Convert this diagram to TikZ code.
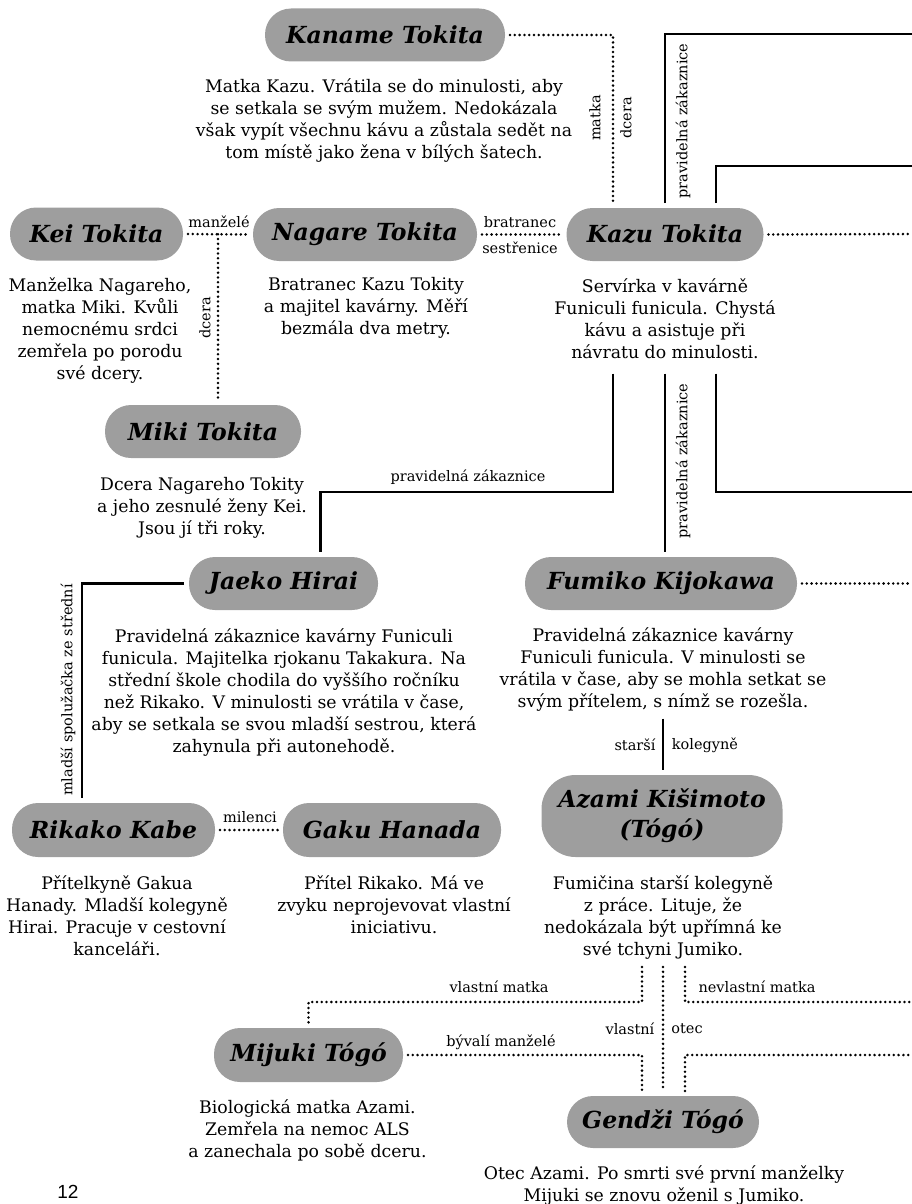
\documentclass[tikz,border=0pt]{standalone}
\usepackage{fontspec}
\setmainfont{DejaVu Serif}
\newfontfamily\pagefont{Liberation Sans}
\definecolor{pillgray}{RGB}{158,158,158}

\begin{document}
\begin{tikzpicture}[x=1pt, y=-1pt,
    person/.style={fill=pillgray, rounded corners=26pt, minimum height=53pt, inner sep=0pt, outer sep=5pt, align=center, font=\fontsize{23.5}{30}\selectfont\bfseries\itshape},
    note/.style={align=center, inner sep=0pt, font=\fontsize{17.3}{22}\selectfont},
    tag/.style={inner sep=0pt, font=\fontsize{14.5}{17}\selectfont},
    rel/.style={line width=2.8pt, line cap=round, dash pattern=on 0pt off 4.8pt},
    link/.style={line width=2.8pt}]
                    \useasboundingbox (0,0) rectangle (912,1204);
                    % people
                    \node[person, minimum width=240pt] (kaname) at (385,35) {Kaname Tokita};
                    \node[person, minimum width=173pt] (kei) at (96.5,234) {Kei Tokita};
                    \node[person, minimum width=224pt] (nagare) at (365,234.5) {Nagare Tokita};
                    \node[person, minimum width=197pt] (kazu) at (665,234.5) {Kazu Tokita};
                    \node[person, minimum width=196pt] (miki) at (203,431.5) {Miki Tokita};
                    \node[person, minimum width=189pt] (jaeko) at (283.5,583.5) {Jaeko Hirai};
                    \node[person, minimum width=272pt] (fumiko) at (661,583.5) {Fumiko Kijokawa};
                    \node[person, minimum width=241pt, minimum height=82pt, rounded corners=34pt] (azami) at (662,816) {Azami Kišimoto\\(Tógó)};
                    \node[person, minimum width=203pt, minimum height=54pt] (rikako) at (113.5,830) {Rikako Kabe};
                    \node[person, minimum width=218pt, minimum height=54pt] (gaku) at (392,830) {Gaku Hanada};
                    \node[person, minimum width=189pt, minimum height=54pt] (mijuki) at (308.5,1055) {Mijuki Tógó};
                    \node[person, minimum width=192pt, minimum height=52pt] (gendzi) at (663,1122) {Gendži Tógó};
                    % notes
                    \node[note] (kanametext) at (384,120.5) {Matka Kazu. Vrátila se do minulosti, aby\\se setkala se svým mužem. Nedokázala\\však vypít všechnu kávu a zůstala sedět na\\tom místě jako žena v bílých šatech.};
                    \node[note] (keitext) at (100,330) {Manželka Nagareho,\\matka Miki. Kvůli\\nemocnému srdci\\zemřela po porodu\\své dcery.};
                    \node[note] (nagaretext) at (366,308) {Bratranec Kazu Tokity\\a majitel kavárny. Měří\\bezmála dva metry.};
                    \node[note] (kazutext) at (665,318.5) {Servírka v kavárně\\Funiculi funicula. Chystá\\kávu a asistuje při\\návratu do minulosti.};
                    \node[note] (mikitext) at (202,508) {Dcera Nagareho Tokity\\a jeho zesnulé ženy Kei.\\Jsou jí tři roky.};
                    \node[note] (jaekotext) at (284,692.5) {Pravidelná zákaznice kavárny Funiculi\\funicula. Majitelka rjokanu Takakura. Na\\střední škole chodila do vyššího ročníku\\než Rikako. V minulosti se vrátila v čase,\\aby se setkala se svou mladší sestrou, která\\zahynula při autonehodě.};
                    \node[note] (fumikotext) at (663,669.5) {Pravidelná zákaznice kavárny\\Funiculi funicula. V minulosti se\\vrátila v čase, aby se mohla setkat se\\svým přítelem, s nímž se rozešla.};
                    \node[note] (azamitext) at (663,917) {Fumičina starší kolegyně\\z práce. Lituje, že\\nedokázala být upřímná ke\\své tchyni Jumiko.};
                    \node[note] (rikakotext) at (117,916) {Přítelkyně Gakua\\Hanady. Mladší kolegyně\\Hirai. Pracuje v cestovní\\kanceláři.};
                    \node[note] (gakutext) at (394,904.5) {Přítel Rikako. Má ve\\zvyku neprojevovat vlastní\\iniciativu.};
                    \node[note] (mijukitext) at (307.5,1130) {Biologická matka Azami.\\Zemřela na nemoc ALS\\a zanechala po sobě dceru.};
                    \node[note] (gendzitext) at (664,1185) {Otec Azami. Po smrti své první manželky\\Mijuki se znovu oženil s Jumiko.};
                    \node[font=\pagefont\fontsize{19}{20}\selectfont] (pagenum) at (68,1192) {12};
                    % relation labels
                    \node[tag, rotate=90] (tmatka) at (595,118) {matka};
                    \node[tag, rotate=90] (tdcera) at (626,118) {dcera};
                    \node[tag, rotate=90] (tregular) at (683,121) {pravidelná zákaznice};
                    \node[tag] (tspouses) at (219,222) {manželé};
                    \node[tag, rotate=90] (tdaughter) at (205,318) {dcera};
                    \node[tag] (tcousin) at (520,222) {bratranec};
                    \node[tag] (tcousinf) at (520,248) {sestřenice};
                    \node[tag] (tregular2) at (468,477) {pravidelná zákaznice};
                    \node[tag, rotate=90] (tregular3) at (683,461) {pravidelná zákaznice};
                    \node[tag, rotate=90] (tschool) at (68,690) {mladší spolužačka ze střední};
                    \node[tag] (tolder) at (635,745) {starší};
                    \node[tag] (tcolleague) at (705,745) {kolegyně};
                    \node[tag] (tlovers) at (250,817) {milenci};
                    \node[tag] (tmother) at (499,987) {vlastní matka};
                    \node[tag] (tstep) at (757,987) {nevlastní matka};
                    \node[tag] (town) at (630,1029) {vlastní};
                    \node[tag] (tfather) at (687,1029) {otec};
                    \node[tag] (texes) at (501,1042) {bývalí manželé};
                    % page edge ends
                    \coordinate (edgeA) at (912,34);
                    \coordinate (edgeB) at (912,166);
                    \coordinate (edgeC) at (912,234);
                    \coordinate (edgeD) at (912,492);
                    \coordinate (edgeE) at (912,583.5);
                    \coordinate (edgeF) at (912,1002);
                    \coordinate (edgeG) at (912,1055);
                    % connectors
                    \draw[rel] (kaname.east) -| ([xshift=-52]kazu.north);
                    \draw[link] (kazu.north) |- (edgeA);
                    \draw[link] ([xshift=51]kazu.north) |- (edgeB);
                    \draw[rel] (kazu.east) -- (edgeC);
                    \draw[rel] (kei.east) -- coordinate[midway] (keinagare) (nagare.west);
                    \draw[rel] (keinagare) -- (keinagare |- miki.north);
                    \draw[rel] (nagare.east) -- (kazu.west);
                    \draw[link] ([xshift=-52,yshift=-15]kazutext.south) |- ([xshift=37,yshift=60]jaeko.north) -- ([xshift=37]jaeko.north);
                    \draw[link] ([yshift=-15]kazutext.south) -- (kazutext.south |- fumiko.north);
                    \draw[link] ([xshift=51,yshift=-15]kazutext.south) |- (edgeD);
                    \draw[link] (jaeko.west) -| ([xshift=-31.5]rikako.north);
                    \draw[rel] (fumiko.east) -- (edgeE);
                    \draw[link] ([yshift=-7]fumikotext.south) -- (fumikotext.south |- azami.north);
                    \draw[rel] (rikako.east) -- (gaku.west);
                    \draw[rel] ([xshift=-21,yshift=-8]azamitext.south) |- ([yshift=21]mijuki.north) -- (mijuki.north);
                    \draw[rel] ([xshift=22,yshift=-8]azamitext.south) |- (edgeF);
                    \draw[rel] ([yshift=-8]azamitext.south) -- (azamitext.south |- gendzi.north);
                    \draw[rel] (mijuki.east) -| ([xshift=-21]gendzi.north);
                    \draw[rel] ([xshift=22]gendzi.north) |- (edgeG);
                \end{tikzpicture}
\end{document}
